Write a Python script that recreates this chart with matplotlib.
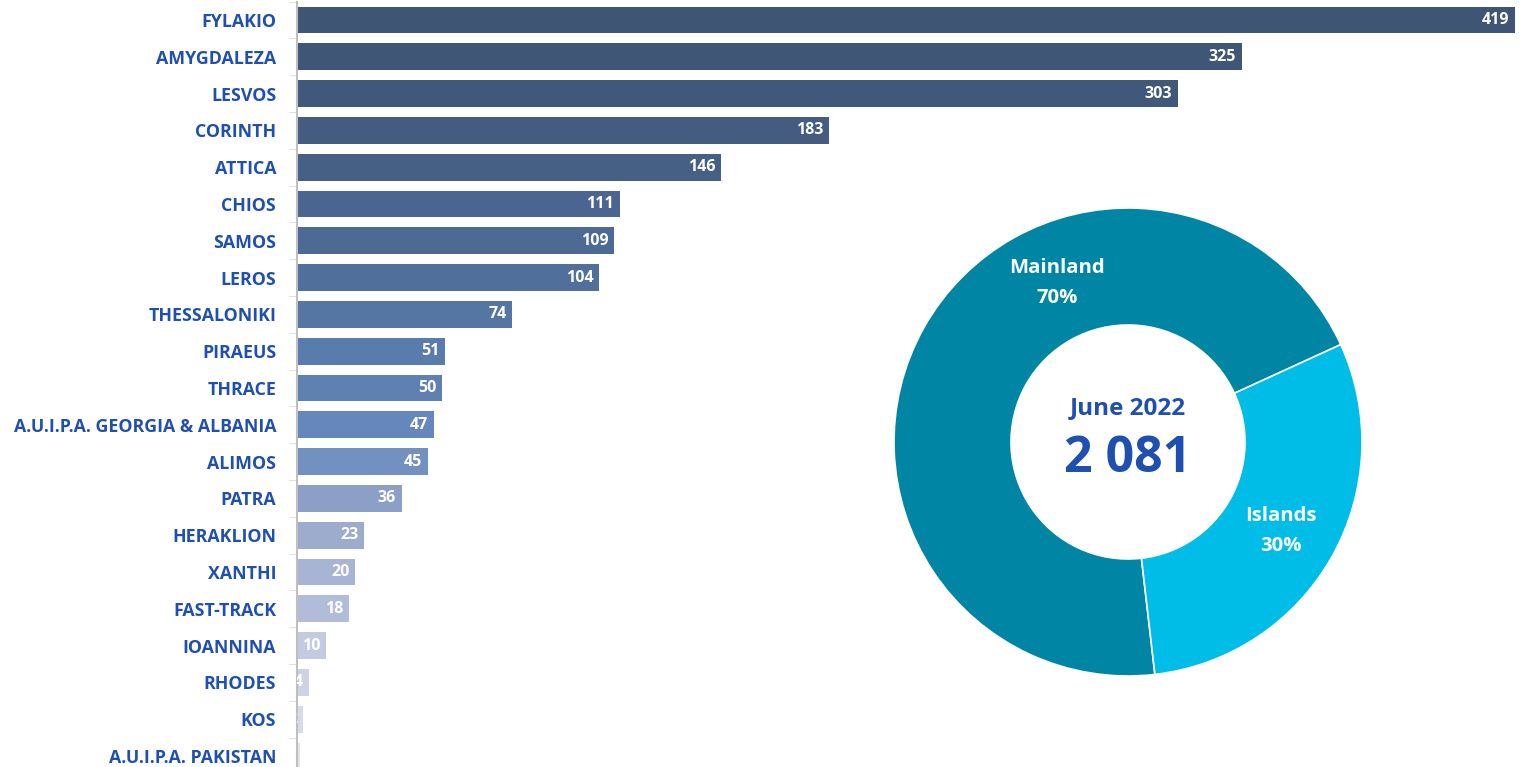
import matplotlib.pyplot as plt
from matplotlib.ticker import FixedLocator

plt.rcParams['font.family'] = ['Open Sans', 'DejaVu Sans']

centres = ['FYLAKIO', 'AMYGDALEZA', 'LESVOS', 'CORINTH', 'ATTICA', 'CHIOS', 'SAMOS',
           'LEROS', 'THESSALONIKI', 'PIRAEUS', 'THRACE', 'A.U.I.P.A. GEORGIA & ALBANIA',
           'ALIMOS', 'PATRA', 'HERAKLION', 'XANTHI', 'FAST-TRACK', 'IOANNINA', 'RHODES',
           'KOS', 'A.U.I.P.A. PAKISTAN']
counts = [419, 325, 303, 183, 146, 111, 109, 104, 74, 51, 50, 47, 45, 36, 23, 20, 18,
          10, 4, 2, 1]
bar_colors = ['#3e5574', '#3f5677', '#40587a', '#435c80', '#465f85', '#4a6690', '#4d6a95',
              '#506f9b', '#5575a3', '#5a7cac', '#5e81b1', '#6587bb', '#7290c0', '#8c9fc6',
              '#9daccd', '#a7b4d3', '#b1bdd8', '#c2cbe1', '#ccd3e5', '#d6dbea', '#e2e5ef']

regions = ['Mainland', 'Islands']
shares = [70, 30]
region_colors = ['#0086a4', '#00bde8']
total_label = '2 081'
period = 'June 2022'

label_blue = '#1f4fb0'

fig = plt.figure(figsize=(15.28, 7.67), dpi=100)

# bar chart
ax = fig.add_axes([297 / 1528, -0.0096, 1225 / 1528, 1.0076])
y = list(range(len(centres)))
bars = ax.barh(y, counts, height=0.73, color=bar_colors)
ax.set_xlim(0, 421.5)
ax.set_ylim(len(centres) - 0.5, -0.5)
ax.set_yticks(y)
ax.set_yticklabels(centres, color=label_blue, fontweight='bold', fontsize=12.8)
ax.yaxis.set_minor_locator(FixedLocator([i + 0.5 for i in range(-1, len(centres))]))
ax.tick_params(axis='y', which='major', length=0, pad=15)
ax.tick_params(axis='y', which='minor', length=6, color='#d9d9d9')
ax.set_xticks([])
for s in ['top', 'right', 'bottom']:
    ax.spines[s].set_visible(False)
ax.spines['left'].set_color('#bfbfbf')
ax.spines['left'].set_linewidth(1.5)

for b, v in zip(bars, counts):
    t = ax.annotate(str(v), (v, b.get_y() + b.get_height() / 2), xytext=(-4, 0),
                    textcoords='offset points', ha='right', va='center',
                    color='white', fontweight='bold', fontsize=11.5)
    t.set_clip_path(b)

# donut
ax2 = fig.add_axes([(1128 - 240) / 1528, 1 - (442 + 240) / 767, 480 / 1528, 480 / 767])
ax2.pie(shares, colors=region_colors, startangle=24.6, radius=234 / 240,
        wedgeprops=dict(width=117 / 240, edgecolor='white', linewidth=1.2))
ax2.set_xlim(-1, 1)
ax2.set_ylim(-1, 1)
ax2.set_aspect('equal')
ax2.axis('off')

ax2.text((1057 - 1128) / 240, (442 - 268) / 240, regions[0], ha='center', va='center',
         color='white', fontweight='bold', fontsize=14.6)
ax2.text((1057 - 1128) / 240, (442 - 298) / 240, f'{shares[0]}%', ha='center', va='center',
         color='white', fontweight='bold', fontsize=14.6)
ax2.text((1281 - 1128) / 240, (442 - 516) / 240, regions[1], ha='center', va='center',
         color='white', fontweight='bold', fontsize=14.6)
ax2.text((1281 - 1128) / 240, (442 - 546) / 240, f'{shares[1]}%', ha='center', va='center',
         color='white', fontweight='bold', fontsize=14.6)
ax2.text(0, (442 - 408) / 240, period, ha='center', va='center',
         color=label_blue, fontweight='bold', fontsize=17.5)
ax2.text(0, (442 - 459) / 240, total_label, ha='center', va='center',
         color=label_blue, fontweight='bold', fontsize=36)

fig.savefig('out.png', dpi=100)
